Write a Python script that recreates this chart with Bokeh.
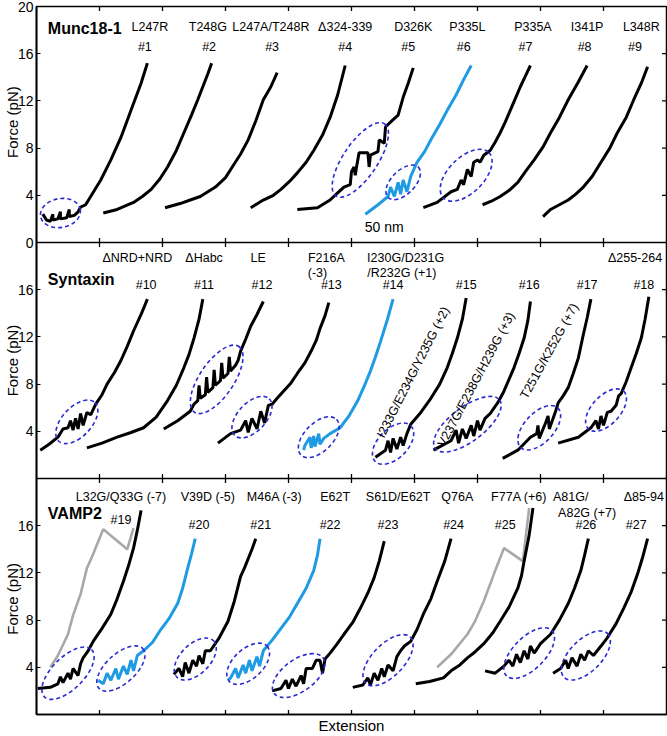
from bokeh.plotting import figure
from bokeh.models import Range1d, FixedTicker, Span
from bokeh.core.properties import value
from bokeh.embed import file_html
from bokeh.resources import INLINE

FONT = "Liberation Sans"

# ---------------- axis values ----------------
ext_ticks = [50, 100, 150, 200, 250, 300, 350, 400, 450]        # nm
force_ticks_top = [0, 4, 8, 12, 16, 20]                          # pN
force_ticks = [4, 8, 12, 16]                                     # pN
force_title = "Force (pN)"

# ---------------- Munc18-1 panel ----------------
munc_names = ["L247R", "T248G", "L247A/T248R", "\u0394324-339", "D326K", "P335L", "P335A", "I341P", "L348R"]
munc_name_x = [90, 136, 186, 245, 299, 342, 394, 437, 480]
munc_ids = ["#1", "#2", "#3", "#4", "#5", "#6", "#7", "#8", "#9"]
munc_id_x = [86, 137, 187, 245, 295, 339, 388, 435, 475]
munc_kind = ["k", "k", "k", "k", "k", "b", "k", "k", "k"]
munc_ext = [
    [5, 8, 11, 13, 13, 17, 19, 19, 24, 26, 26, 30, 33, 35, 39, 43, 47, 51, 59, 67, 75, 83, 88],
    [53, 64, 77, 84, 91, 98, 104, 111, 117, 123, 128, 136, 139],
    [102, 114, 122, 130, 142, 150, 156, 162, 168, 174, 180, 186, 191],
    [170, 180, 188, 194, 201, 207, 214, 220, 227, 233, 239, 245],
    [207, 223, 233, 239, 244, 249, 250, 252, 253, 254, 256, 263, 264, 265, 271, 272, 276, 277, 282, 287, 291, 295, 299],
    [261, 271, 279, 281, 284, 287, 289, 291, 294, 297, 302, 308, 313, 320, 326, 333, 339, 345],
    [307, 318, 329, 334, 337, 339, 342, 345, 347, 350, 352, 355, 360, 364, 368, 372, 376, 380, 384, 388, 392],
    [354, 361, 368, 375, 382, 388, 395, 402, 408, 415, 422, 430, 437],
    [402, 408, 415, 422, 428, 434, 441, 448, 455, 461, 468, 474, 480, 485],
]
munc_force = [
    [2.4, 1.9, 1.8, 2.4, 1.9, 2.0, 2.6, 2.0, 2.1, 2.8, 2.2, 2.3, 2.6, 3.0, 3.2, 3.9, 4.6, 5.3, 7.0, 8.9, 11.2, 13.5, 15.2],
    [2.5, 2.8, 3.4, 3.9, 4.5, 5.4, 6.4, 7.8, 9.3, 10.8, 12.1, 14.3, 15.2],
    [2.95, 3.3, 3.6, 3.9, 4.7, 5.5, 6.5, 7.5, 8.7, 10.3, 12.1, 13.2, 14.4],
    [2.95, 3.6, 4.0, 4.5, 5.2, 5.9, 6.8, 7.8, 9.1, 10.6, 12.5, 15.0],
    [2.8, 2.95, 3.6, 4.2, 4.7, 4.9, 6.0, 6.4, 5.7, 6.4, 7.6, 7.6, 6.4, 7.4, 7.7, 8.7, 8.4, 9.8, 10.3, 10.8, 12.3, 13.5, 14.8],
    [2.4, 3.2, 3.9, 4.7, 3.9, 5.1, 4.1, 5.3, 4.3, 5.6, 6.8, 7.7, 8.7, 10.0, 11.2, 12.5, 13.8, 15.0],
    [2.95, 3.4, 4.3, 4.5, 5.3, 4.9, 6.2, 5.6, 6.8, 7.0, 6.8, 7.4, 7.8, 8.5, 9.3, 10.2, 11.2, 12.2, 13.2, 14.1, 15.0],
    [3.2, 3.5, 3.9, 4.4, 5.1, 6.0, 7.0, 8.1, 9.3, 10.6, 12.1, 13.6, 15.0],
    [2.2, 2.8, 3.2, 3.6, 4.1, 4.7, 5.6, 6.8, 8.0, 9.3, 10.6, 12.1, 13.5, 14.9],
]
munc_gray_ext = []
munc_gray_force = []
munc_ell_x = [19, 257, 291, 341]
munc_ell_f = [2.5, 7.0, 5.1, 5.7]
munc_ell_w = [32, 69, 34, 51]
munc_ell_h = [2.45, 2.9, 2.0, 3.0]
munc_ell_a = [10, 56, 45, 45]

# ---------------- Syntaxin panel ----------------
stx_names = ["\u0394NRD+NRD", "\u0394Habc", "LE", "F216A", "I230G/D231G", "\u0394255-264"]
stx_name_x = [80, 133, 176, 230, 293, 475]
stx_names2 = ["(-3)", "/R232G (+1)"]
stx_name2_x = [223, 290]
stx_ids = ["#10", "#11", "#12", "#13", "#14", "#15", "#16", "#17", "#18"]
stx_id_x = [87, 133, 179, 234, 283, 341, 391, 437, 482]
stx_rot = ["I233G/E234G/Y235G (+2)", "V237G/E238G/H239G (+3)", "T251G/K252G (+7)"]
stx_rot_x = [299, 349, 407]
stx_rot_f = [9.0, 8.4, 10.8]
stx_rot_a = [63, 62, 61]
stx_kind = ["k", "k", "k", "k", "b", "k", "k", "k", "k"]
stx_ext = [
    [3, 10, 17, 21, 25, 27, 29, 31, 33, 35, 37, 40, 43, 47, 52, 56, 62, 67, 72, 77, 83, 88],
    [40, 52, 64, 75, 85, 95, 104, 111, 117, 121, 125, 129, 132],
    [101, 112, 122, 125, 128, 129, 130, 134, 135, 136, 140, 141, 142, 146, 147, 148, 152, 153, 154, 158, 160, 162, 166, 170, 175, 180],
    [144, 154, 162, 166, 168, 171, 175, 178, 181, 184, 187, 191, 196, 202, 207, 213, 218, 222, 225, 229, 232],
    [212, 213, 217, 218, 220, 221, 224, 225, 228, 233, 241, 248, 255, 260, 265, 269, 273, 278, 283],
    [269, 277, 279, 281, 283, 286, 289, 291, 294, 297, 305, 313, 320, 326, 330, 334, 338, 341],
    [315, 329, 333, 335, 338, 341, 345, 347, 350, 352, 356, 360, 366, 371, 375, 379, 383, 387, 390, 392],
    [370, 382, 392, 397, 398, 399, 404, 406, 407, 412, 414, 418, 422, 426, 430, 434, 437, 440],
    [414, 430, 440, 444, 446, 448, 450, 453, 456, 460, 462, 464, 468, 472, 476, 480, 483, 486],
]
stx_force = [
    [2.4, 2.9, 3.5, 4.2, 4.3, 4.9, 4.1, 5.1, 4.2, 5.5, 4.5, 5.6, 5.4, 6.3, 7.1, 8.0, 9.0, 10.0, 11.2, 12.5, 13.9, 15.2],
    [2.6, 3.0, 3.5, 3.9, 4.3, 5.2, 6.6, 7.9, 9.4, 10.5, 11.9, 13.5, 15.2],
    [4.2, 4.9, 5.7, 6.3, 6.6, 7.9, 6.8, 7.1, 8.6, 7.3, 7.7, 9.2, 7.9, 8.3, 9.8, 8.5, 8.9, 10.3, 9.1, 9.6, 10.0, 10.8, 11.8, 12.9, 13.9, 15.0],
    [3.0, 3.8, 4.1, 4.9, 3.9, 5.1, 4.2, 5.7, 4.7, 6.2, 6.3, 6.8, 7.4, 8.1, 8.9, 9.8, 10.8, 11.7, 12.7, 13.8, 14.9],
    [2.4, 2.8, 3.5, 2.6, 3.6, 2.7, 3.8, 2.9, 3.4, 3.8, 4.3, 5.3, 6.6, 7.8, 9.1, 10.3, 11.6, 13.3, 15.2],
    [1.8, 2.4, 3.2, 2.2, 3.4, 2.5, 3.5, 2.8, 3.8, 4.6, 5.6, 6.8, 8.0, 9.4, 10.6, 11.9, 13.5, 15.3],
    [2.4, 3.2, 4.1, 3.0, 4.2, 3.4, 4.5, 3.6, 4.9, 4.1, 5.1, 5.5, 6.4, 7.4, 8.4, 9.4, 10.6, 11.9, 13.4, 15.0],
    [1.7, 2.4, 3.5, 3.8, 4.5, 3.4, 4.7, 5.3, 4.2, 5.7, 6.4, 7.0, 7.7, 8.9, 10.2, 12.2, 13.6, 15.2],
    [3.0, 3.5, 4.3, 4.9, 4.2, 5.3, 4.5, 5.6, 5.7, 6.2, 7.0, 7.2, 8.2, 9.4, 10.6, 11.9, 13.5, 15.4],
]
stx_gray_ext = []
stx_gray_force = []
stx_ell_x = [32, 143, 171, 224, 283, 342, 399, 452]
stx_ell_f = [4.8, 8.4, 5.2, 3.5, 2.95, 4.6, 4.3, 5.8]
stx_ell_w = [42, 63, 40, 40, 40, 64, 43, 41]
stx_ell_h = [2.5, 2.9, 2.4, 2.4, 2.5, 2.9, 2.5, 2.4]
stx_ell_a = [47, 56, 47, 45, 45, 37, 47, 47]

# ---------------- VAMP2 panel ----------------
vamp_names = ["L32G/Q33G (-7)", "V39D (-5)", "M46A (-3)", "E62T", "S61D/E62T", "Q76A", "F77A (+6)", "A81G/", "\u039485-94"]
vamp_name_x = [67, 136, 189, 237, 287, 334, 383, 424, 482]
vamp_names2 = ["A82G (+7)"]
vamp_name2_x = [437]
vamp_ids = ["#19", "#20", "#21", "#22", "#23", "#24", "#25", "#26", "#27"]
vamp_id_x = [67, 129, 178, 233, 279, 331, 372, 436, 476]
vamp_id_f = [16.5, 16.1, 16.1, 16.1, 16.1, 16.1, 16.1, 16.1, 16.1]
vamp_kind = ["k", "b", "k", "b", "k", "k", "k", "k", "k"]
vamp_ext = [
    [1, 11, 17, 19, 21, 25, 27, 29, 33, 35, 37, 41, 45, 52, 59, 64, 69, 73, 77, 80, 83],
    [49, 53, 56, 59, 63, 65, 69, 72, 75, 77, 80, 85, 92, 98, 105, 112, 116, 120, 123, 126],
    [109, 113, 116, 118, 121, 124, 127, 129, 132, 134, 138, 145, 152, 157, 162, 165, 168, 171, 174],
    [152, 154, 158, 160, 164, 166, 169, 171, 175, 177, 180, 187, 194, 201, 207, 214, 220, 223, 225],
    [187, 194, 198, 200, 203, 206, 210, 212, 214, 219, 222, 225, 227, 229, 233, 238, 244, 251, 257, 263, 268, 272, 276],
    [251, 259, 263, 265, 268, 271, 274, 276, 279, 283, 286, 289, 292, 297, 302, 307, 313, 318, 324, 329],
    [301, 312, 323, 329, 336, 342, 348, 355, 362, 368, 375, 382, 385, 387, 391, 394],
    [356, 364, 371, 375, 378, 381, 384, 387, 390, 392, 395, 400, 408, 415, 422, 427, 432, 435, 438],
    [410, 416, 420, 422, 425, 429, 432, 435, 438, 442, 448, 453, 460, 466, 472, 477, 481, 485],
]
vamp_force = [
    [2.2, 2.3, 2.6, 3.2, 2.7, 3.5, 3.0, 3.9, 3.3, 4.3, 4.8, 5.4, 6.2, 7.3, 8.5, 9.8, 11.3, 12.6, 14.1, 15.6, 17.3],
    [2.9, 2.6, 3.5, 2.9, 3.9, 3.0, 4.1, 3.4, 4.6, 3.7, 5.0, 5.4, 6.1, 7.1, 8.1, 9.4, 10.7, 12.4, 13.6, 14.9],
    [3.4, 3.9, 3.2, 4.4, 3.5, 4.6, 4.1, 5.0, 4.3, 5.4, 5.4, 6.5, 7.9, 9.6, 11.7, 12.4, 13.2, 14.0, 14.9],
    [2.9, 3.1, 3.9, 3.1, 4.2, 3.5, 4.6, 3.7, 4.9, 4.1, 5.4, 6.3, 7.3, 8.3, 9.4, 10.7, 12.2, 13.5, 14.9],
    [2.0, 2.2, 2.9, 2.2, 3.0, 2.4, 3.3, 2.6, 3.9, 3.9, 4.6, 4.6, 3.5, 4.7, 5.2, 5.9, 6.8, 7.8, 9.0, 10.3, 11.6, 13.0, 14.7],
    [2.3, 2.5, 3.1, 2.5, 3.5, 2.9, 3.9, 3.2, 4.2, 3.7, 4.9, 5.4, 5.8, 6.2, 7.2, 8.5, 9.8, 11.3, 13.0, 14.9],
    [2.6, 2.8, 3.1, 3.7, 4.2, 4.8, 5.3, 6.0, 6.9, 7.9, 9.1, 10.7, 11.8, 13.0, 15.2, 17.5],
    [3.7, 3.5, 4.1, 4.6, 4.1, 5.1, 4.4, 5.4, 4.7, 5.8, 5.2, 6.0, 6.8, 8.0, 9.4, 10.7, 12.2, 13.5, 14.9],
    [3.5, 3.9, 4.6, 3.9, 4.8, 4.1, 5.1, 4.6, 5.4, 5.0, 5.8, 6.5, 7.7, 9.0, 10.4, 11.9, 13.3, 14.9],
]
vamp_gray_ext = [
    [11, 17, 25, 29, 35, 40, 45, 48, 53, 72, 77],
    [318, 329, 342, 348, 355, 363, 371, 386, 391],
]
vamp_gray_force = [
    [4.0, 5.0, 6.8, 8.4, 10.2, 12.4, 13.6, 14.4, 15.7, 14.0, 15.8],
    [4.0, 5.1, 6.8, 7.9, 9.6, 11.9, 14.1, 13.0, 17.5],
]
vamp_ell_x = [25, 67, 126, 168, 208, 279, 391, 436]
vamp_ell_f = [3.5, 3.9, 4.7, 4.3, 3.3, 4.6, 5.2, 5.0]
vamp_ell_w = [53, 47, 41, 41, 48, 51, 51, 49]
vamp_ell_h = [2.7, 2.5, 2.5, 2.5, 2.7, 2.7, 2.7, 2.7]
vamp_ell_a = [45, 42, 45, 43, 36, 46, 45, 45]

# ---------------- styles ----------------
COLORS = {"k": "#000000", "b": "#1E9BE3"}
GRAY = "#A8A8A8"
ELL_COLOR = "#2A2AD2"

# three stacked panels share one frame; each panel has its own force range
panel_ranges = {"munc": Range1d(-40, 20), "stx": Range1d(-20, 40), "vamp": Range1d(0, 60)}
panel_base = {"munc": 40, "stx": 20, "vamp": 0}

p = figure(width=667, height=736, x_range=Range1d(0, 500), y_range=Range1d(0, 60),
           output_backend="svg", toolbar_location=None,
           min_border_left=36, min_border_right=1, min_border_top=6, min_border_bottom=0)
p.extra_y_ranges = panel_ranges
p.grid.visible = False
p.outline_line_color = "black"
p.outline_line_width = 1.5
p.background_fill_color = "white"
p.border_fill_color = "white"

# left axis: one axis, force labels restart in every panel
left_ticks, left_labels = [], {}
for name, ticks in [("vamp", force_ticks), ("stx", force_ticks), ("munc", force_ticks_top)]:
    for t in ticks:
        pos = panel_base[name] + t
        left_ticks.append(pos)
        left_labels[pos] = str(t)
ya = p.yaxis[0]
ya.ticker = FixedTicker(ticks=left_ticks)
ya.major_label_overrides = left_labels
ya.major_tick_in = 4
ya.major_tick_out = 0
ya.minor_tick_in = 0
ya.minor_tick_out = 0
ya.major_label_text_font = FONT
ya.major_label_text_font_size = "14px"
ya.major_label_text_color = "black"
ya.major_label_standoff = 3
ya.axis_line_width = 1.8
# one rotated title per panel (non-breaking spaces keep them one panel apart)
gap = "\u00a0" * 40
ya.axis_label = gap.join([force_title] * 3)
ya.axis_label_text_font = FONT
ya.axis_label_text_font_size = "15px"
ya.axis_label_text_font_style = "normal"
ya.axis_label_text_color = "black"
ya.axis_label_standoff = -6

# bottom axis: only the "Extension" title (ticks drawn below as inward marks)
xa = p.xaxis[0]
xa.ticker = FixedTicker(ticks=[])
xa.minor_tick_in = 0
xa.minor_tick_out = 0
xa.axis_line_width = 1.5
xa.axis_label = "Extension"
xa.axis_label_text_font = FONT
xa.axis_label_text_font_size = "15px"
xa.axis_label_text_font_style = "normal"
xa.axis_label_text_color = "black"
xa.axis_label_standoff = 2

# panel separators
for base in (panel_base["stx"], panel_base["munc"]):
    p.add_layout(Span(location=base, dimension="width", line_color="black", line_width=1.5))

# inward extension ticks on every horizontal edge (dash markers are clipped by the frame)
for base in (0, 20, 40, 60):
    p.scatter(x=ext_ticks, y=[base] * len(ext_ticks), marker="dash", size=9, angle=90,
              angle_units="deg", line_color="black", line_width=1.3)

panels = [
    dict(rng="munc", ext=munc_ext, force=munc_force, kind=munc_kind,
         gx=munc_gray_ext, gf=munc_gray_force,
         ex=munc_ell_x, ef=munc_ell_f, ew=munc_ell_w, eh=munc_ell_h, ea=munc_ell_a,
         title="Munc18-1", title_f=18.1,
         names=munc_names, name_x=munc_name_x, name_f=18.3,
         ids=munc_ids, id_x=munc_id_x, id_f=[16.6] * 9),
    dict(rng="stx", ext=stx_ext, force=stx_force, kind=stx_kind,
         gx=stx_gray_ext, gf=stx_gray_force,
         ex=stx_ell_x, ef=stx_ell_f, ew=stx_ell_w, eh=stx_ell_h, ea=stx_ell_a,
         title="Syntaxin", title_f=16.9,
         names=stx_names, name_x=stx_name_x, name_f=18.7,
         ids=stx_ids, id_x=stx_id_x, id_f=[16.4] * 9),
    dict(rng="vamp", ext=vamp_ext, force=vamp_force, kind=vamp_kind,
         gx=vamp_gray_ext, gf=vamp_gray_force,
         ex=vamp_ell_x, ef=vamp_ell_f, ew=vamp_ell_w, eh=vamp_ell_h, ea=vamp_ell_a,
         title="VAMP2", title_f=17.0,
         names=vamp_names, name_x=vamp_name_x, name_f=18.4,
         ids=vamp_ids, id_x=vamp_id_x, id_f=vamp_id_f),
]

txt = dict(text_font=value(FONT), text_font_size="12.5px", text_align="center",
           text_baseline="middle", text_color="black")

for pn in panels:
    r = pn["rng"]
    # inward force ticks on the right edge
    p.scatter(x=[500] * len(force_ticks), y=force_ticks, y_range_name=r, marker="dash", size=9,
              line_color="black", line_width=1.3)

    for gx, gf in zip(pn["gx"], pn["gf"]):
        p.line(gx, gf, y_range_name=r, line_color=GRAY, line_width=2.6)
    for xs, fs, k in zip(pn["ext"], pn["force"], pn["kind"]):
        p.line(xs, fs, y_range_name=r, line_color=COLORS[k], line_width=3)
    p.ellipse(x=pn["ex"], y=pn["ef"], width=pn["ew"], height=pn["eh"], angle=pn["ea"],
              angle_units="deg", y_range_name=r, fill_color=None, line_color=ELL_COLOR,
              line_width=1.6, line_dash="4 3")

    p.text(x=pn["name_x"], y=[pn["name_f"]] * len(pn["names"]), text=pn["names"], y_range_name=r, **txt)
    p.text(x=pn["id_x"], y=pn["id_f"], text=pn["ids"], y_range_name=r, **txt)
    p.text(x=[9], y=[pn["title_f"]], text=[pn["title"]], y_range_name=r, text_font=value(FONT),
           text_font_size="16px", text_font_style="bold", text_align="left", text_baseline="middle")

# extra two-line names and rotated labels
p.text(x=stx_name2_x, y=[17.4] * len(stx_names2), text=stx_names2, y_range_name="stx", **txt)
p.text(x=stx_rot_x, y=stx_rot_f, text=stx_rot, angle=stx_rot_a, angle_units="deg",
       y_range_name="stx", **txt)
p.text(x=vamp_name2_x, y=[17.1] * len(vamp_names2), text=vamp_names2, y_range_name="vamp", **txt)
p.text(x=[276], y=[1.3], text=["50 nm"], y_range_name="munc", text_font=value(FONT),
       text_font_size="14px", text_align="center", text_baseline="middle")

open("out.html", "w").write(file_html(p, INLINE))
